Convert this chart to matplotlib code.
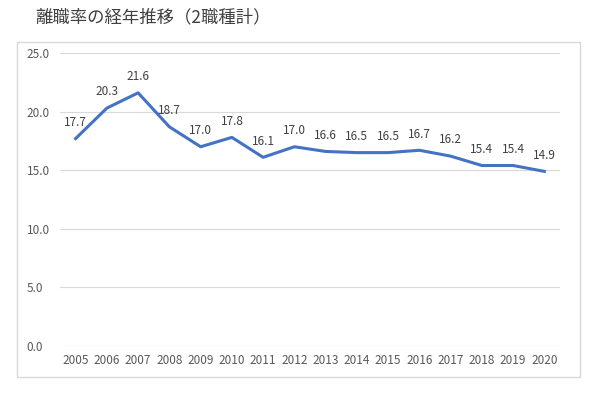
import matplotlib
matplotlib.use("Agg")
import matplotlib.pyplot as plt
from matplotlib.patches import Rectangle

plt.rcParams["font.family"] = ["Noto Sans CJK JP", "DejaVu Sans"]

years = ["2005", "2006", "2007", "2008", "2009", "2010", "2011", "2012",
         "2013", "2014", "2015", "2016", "2017", "2018", "2019", "2020"]
rates = [17.7, 20.3, 21.6, 18.7, 17.0, 17.8, 16.1, 17.0,
         16.6, 16.5, 16.5, 16.7, 16.2, 15.4, 15.4, 14.9]
title = "離職率の経年推移（2職種計）"

W, H = 602, 397
fig = plt.figure(figsize=(W / 100, H / 100), dpi=100)
ax = fig.add_axes([60 / W, 1 - 346 / H, (560 - 60) / W, (346 - 53) / H])

# chart frame
fig.patches.append(Rectangle((17 / W, 1 - 377 / H), (580 - 17) / W, (377 - 42) / H,
                             transform=fig.transFigure, fill=False,
                             edgecolor="#d9d9d9", linewidth=1))
fig.text(35 / W, 1 - 17 / H, title, fontsize=12.5, color="#404040", va="center", ha="left")

x = range(len(years))
ax.plot(x, rates, color="#4472C4", linewidth=2.2)
for xi, v in zip(x, rates):
    ax.annotate(f"{v:.1f}", (xi, v), xytext=(0, 7), textcoords="offset points",
                ha="center", va="bottom", fontsize=8.5, color="#404040")

ax.set_xlim(-0.5, len(years) - 0.5)
ax.set_ylim(0, 25)
ax.set_yticks([0, 5, 10, 15, 20, 25])
ax.set_yticklabels([f"{t:.1f}" for t in [0, 5, 10, 15, 20, 25]])
ax.set_xticks(list(x))
ax.set_xticklabels(years)
ax.tick_params(length=0, labelsize=8.5, labelcolor="#595959", pad=6)
ax.tick_params(axis="y", pad=24)
for lbl in ax.get_yticklabels():
    lbl.set_ha("left")
ax.grid(axis="y", color="#d9d9d9", linewidth=0.8)
ax.set_axisbelow(True)
for s in ax.spines.values():
    s.set_visible(False)

fig.savefig("out.png", dpi=100)
